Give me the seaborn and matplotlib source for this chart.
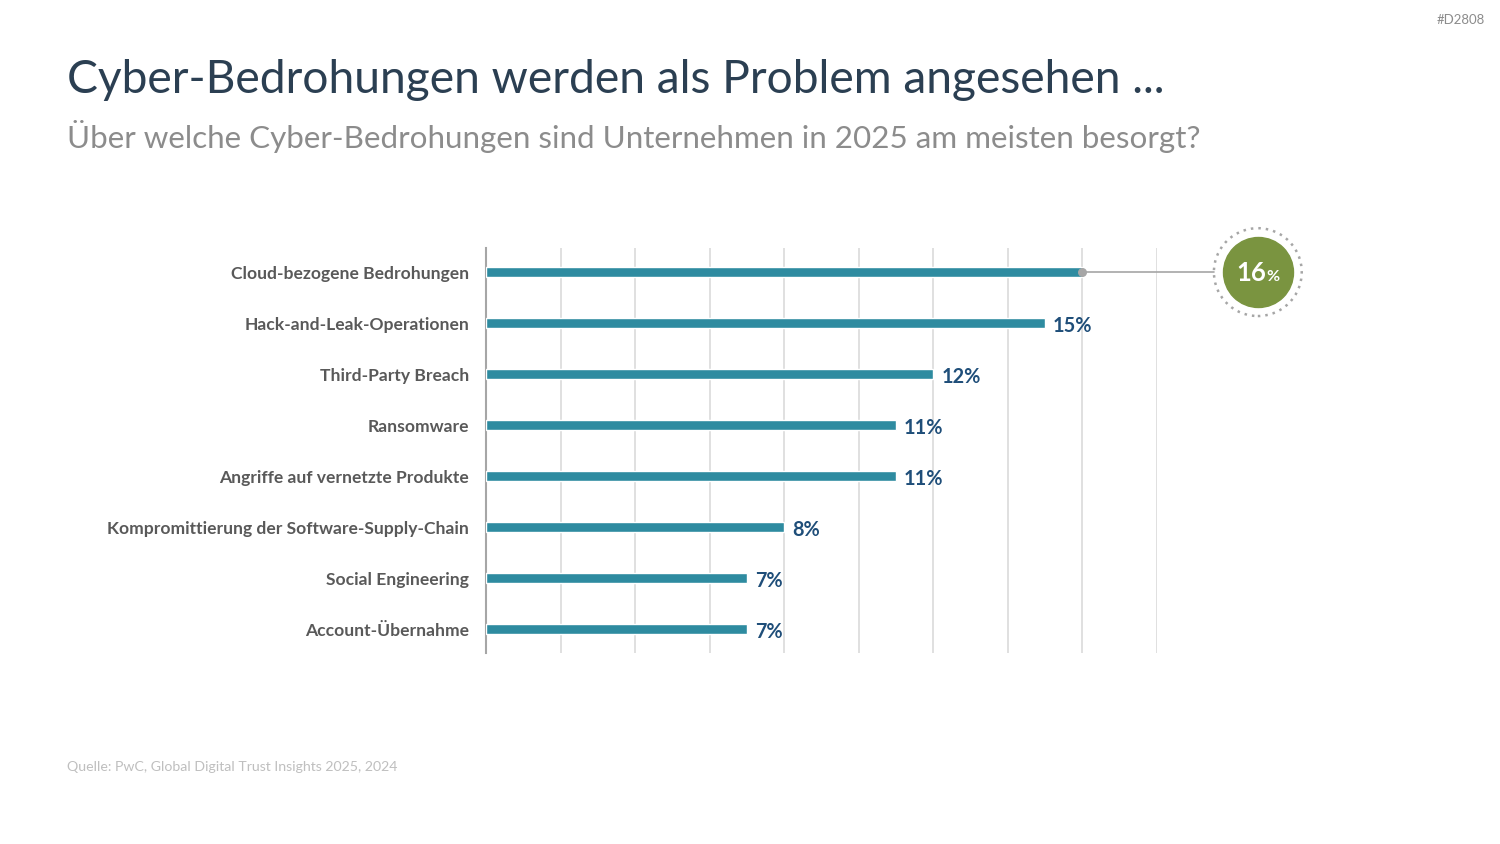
import numpy as np
import pandas as pd
import matplotlib.pyplot as plt
import seaborn as sns

categories = ['Cloud-bezogene Bedrohungen', 'Hack-and-Leak-Operationen', 'Third-Party Breach',
              'Ransomware', 'Angriffe auf vernetzte Produkte',
              'Kompromittierung der Software-Supply-Chain', 'Social Engineering', 'Account-Übernahme']
values = [16, 15, 12, 11, 11, 8, 7, 7]
grid_ticks = [2, 4, 6, 8, 10, 12, 14, 16, 18]

df = pd.DataFrame({'threat': categories, 'pct': values})

sns.set_style('white')
plt.rcParams['font.family'] = ['Lato', 'DejaVu Sans']

fig = plt.figure(figsize=(15, 8.44), dpi=100)
ax = fig.add_axes([0.324, 0.226, 0.447, 0.48])

sns.barplot(data=df, x='pct', y='threat', color='#2E8BA0', width=0.2,
            saturation=1, ax=ax, zorder=3)
ax.set_xlim(0, 18)
ax.set_ylim(7.47, -0.47)
ax.set_xticks(grid_ticks)
ax.set_xticklabels([])
ax.tick_params(axis='x', length=0)
ax.tick_params(axis='y', length=0, pad=12)
ax.grid(axis='x', color='#DADADA', linewidth=1.2, zorder=0)
for s in ['top', 'right', 'bottom']:
    ax.spines[s].set_visible(False)
ax.spines['left'].set_color('#A6A6A6')
ax.spines['left'].set_linewidth(1.5)
ax.set_xlabel('')
ax.set_ylabel('')
for lab in ax.get_yticklabels():
    lab.set_fontweight('bold')
    lab.set_color('#595959')
    lab.set_fontsize(12.6)

# value labels
for i, v in enumerate(values):
    if i == 0:
        continue
    ax.text(v + 0.22, i + 0.05, f'{v}%', va='center', ha='left', fontsize=14.3,
            fontweight='bold', color='#1F4E79')

# highlight bubble for the top value
bx = 20.72
ax.plot([values[0], 19.55], [0, 0], color='#A6A6A6', lw=1.2, clip_on=False, zorder=4)
ax.scatter([values[0]], [0], s=30, color='#A6A6A6', zorder=5, clip_on=False)
ax.scatter([bx], [0], s=4000, facecolor='none', edgecolor='#A6A6A6',
           linestyle=(0, (1, 2)), linewidth=1.8, clip_on=False, zorder=4)
ax.scatter([bx], [0], s=2540, color='#7A9440', clip_on=False, zorder=5)
ax.text(bx + 0.22, 0.02, '16', ha='right', va='center', fontsize=18.5,
        fontweight='bold', color='white', zorder=6)
ax.text(bx + 0.22, 0.1, '%', ha='left', va='center', fontsize=11.5,
        fontweight='bold', color='white', zorder=6)

fig.text(0.0447, 0.905, 'Cyber-Bedrohungen werden als Problem angesehen ...',
         fontsize=33.2, color='#2B3F52', va='center', ha='left')
fig.text(0.0447, 0.838, 'Über welche Cyber-Bedrohungen sind Unternehmen in 2025 am meisten besorgt?',
         fontsize=22.6, color='#8C8C8C', va='center', ha='left')
fig.text(0.0447, 0.091, 'Quelle: PwC, Global Digital Trust Insights 2025, 2024',
         fontsize=10.2, color='#BFBFBF', va='center', ha='left')
fig.text(0.99, 0.976, '#D2808', fontsize=9.5, color='#8C8C8C', va='center', ha='right')

fig.savefig('out.png', dpi=100, facecolor='white')
